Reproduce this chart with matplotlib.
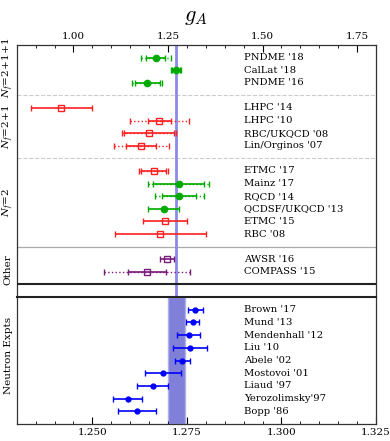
import numpy as np
import matplotlib
matplotlib.use("Agg")
import matplotlib.pyplot as plt
import matplotlib.transforms as mtransforms

plt.rcParams['font.family'] = 'DejaVu Serif'
plt.rcParams['mathtext.fontset'] = 'dejavuserif'

# lattice results (top panel), rows top to bottom
lat_labels = ["PNDME '18", "CalLat '18", "PNDME '16",
              "LHPC '14", "LHPC '10", "RBC/UKQCD '08", "Lin/Orginos '07",
              "ETMC '17", "Mainz '17", "RQCD '14", "QCDSF/UKQCD '13", "ETMC '15", "RBC '08",
              "AWSR '16", "COMPASS '15"]
lat_rows = [0, 1, 2, 4, 5, 6, 7, 9, 10, 11, 12, 13, 14, 16, 17]
lat_vals = [1.218, 1.271, 1.195, 0.968, 1.227, 1.200, 1.179,
            1.212, 1.278, 1.280, 1.239, 1.242, 1.230, 1.248, 1.195]
lat_stat = [0.025, 0.010, 0.033, 0.081, 0.030, 0.065, 0.040,
            0.033, 0.068, 0.045, 0.041, 0.058, 0.121, 0.019, 0.050]
lat_tot = [0.039, 0.013, 0.039, 0.081, 0.078, 0.072, 0.073,
           0.038, 0.081, 0.064, 0.041, 0.058, 0.121, 0.019, 0.113]
lat_kind = ['g', 'g', 'g', 'r', 'r', 'r', 'r',
            'r', 'g', 'g', 'g', 'r', 'r', 'p', 'p']

# neutron decay experiments (bottom panel)
exp_labels = ["Brown '17", "Mund '13", "Mendenhall '12", "Liu '10", "Abele '02",
              "Mostovoi '01", "Liaud '97", "Yerozolimsky'97", "Bopp '86"]
exp_vals = [1.2772, 1.2765, 1.2755, 1.2758, 1.2738, 1.2686, 1.2660, 1.2593, 1.2619]
exp_errs = [0.0020, 0.0017, 0.0030, 0.0044, 0.0019, 0.0048, 0.0041, 0.0039, 0.0050]

ga_avg = 1.2723
ga_err = 0.0023

styles = {'g': dict(color='#00aa00', marker='o', mfc='#00aa00', ms=4.5),
          'r': dict(color='#ff2020', marker='s', mfc='none', ms=4.5),
          'p': dict(color='#7a1a7a', marker='s', mfc='none', ms=4.5)}

fig = plt.figure(figsize=(3.9, 4.41), dpi=100)
ax1 = fig.add_axes([0.0428, 0.3265, 0.9213, 0.5715])
ax2 = fig.add_axes([0.0428, 0.0385, 0.9213, 0.288])

band_col = '#8080d8'

# top panel
ax1.axvline(ga_avg, color='#8a8ae8', lw=2, zorder=1)
for lab, r, v, s, t, k in zip(lat_labels, lat_rows, lat_vals, lat_stat, lat_tot, lat_kind):
    st = styles[k]
    if t > s + 1e-9:
        eb = ax1.errorbar(v, r, xerr=t, fmt='none', ecolor=st['color'], elinewidth=1,
                          capsize=2, capthick=1, zorder=2)
        eb[-1][0].set_linestyle(':')
    ax1.errorbar(v, r, xerr=s, fmt='none', ecolor=st['color'], elinewidth=1.2,
                 capsize=2, capthick=1, zorder=3)
    ax1.plot(v, r, marker=st['marker'], color=st['color'], mfc=st['mfc'],
             ms=st['ms'], mew=1, ls='none', zorder=4)
    ax1.text(1.452, r, lab, fontsize=7.2, va='center', ha='left')

for y in [3, 8]:
    ax1.axhline(y, color='#cccccc', lw=0.8, ls='--', zorder=0)
ax1.axhline(15, color='#aaaaaa', lw=0.9, zorder=0)
ax1.axhline(18, color='#222222', lw=1.5, zorder=5)

ax1.set_xlim(0.85, 1.80)
ax1.set_ylim(19, -1)
ax1.set_xticks([1.00, 1.25, 1.50, 1.75])
ax1.set_xticks(np.arange(0.90, 1.80, 0.05), minor=True)
ax1.set_xticklabels(['1.00', '1.25', '1.50', '1.75'])
ax1.xaxis.tick_top()
ax1.tick_params(axis='x', which='major', direction='in', length=5, labelsize=7.5, pad=3)
ax1.tick_params(axis='x', which='minor', direction='in', length=2.5)
ax1.set_yticks([])
ax1.set_title(r'$g_A$', fontsize=16, pad=17, math_fontfamily='cm')

# bottom panel
ax2.axvspan(ga_avg - ga_err, ga_avg + ga_err, facecolor=band_col, edgecolor='#b0b0ea',
            lw=1, zorder=1)
rows2 = np.arange(1, len(exp_vals) + 1)
ax2.errorbar(exp_vals, rows2, xerr=exp_errs, fmt='o', color='#0000ff', ms=3.5,
             elinewidth=1.2, capsize=2.5, capthick=1, zorder=3)
for lab, r in zip(exp_labels, rows2):
    ax2.text(1.2902, r, lab, fontsize=7.2, va='center', ha='left')

ax2.set_xlim(1.23, 1.325)
ax2.set_ylim(10, 0)
ax2.set_xticks([1.250, 1.275, 1.300, 1.325])
ax2.set_xticks(np.arange(1.235, 1.325, 0.005), minor=True)
ax2.set_xticklabels(['1.250', '1.275', '1.300', '1.325'])
ax2.tick_params(axis='x', which='major', direction='in', length=5, labelsize=7.5, pad=3)
ax2.tick_params(axis='x', which='minor', direction='in', length=2.5)
ax2.set_yticks([])

for ax in (ax1, ax2):
    for sp in ax.spines.values():
        sp.set_color('#333333')
        sp.set_linewidth(0.9)
ax2.spines['top'].set_linewidth(1.5)
ax2.spines['top'].set_color('#222222')
ax1.spines['bottom'].set_visible(False)

# group labels on the left
tr1 = mtransforms.blended_transform_factory(ax1.transAxes, ax1.transData)
for txt, y in [(r'$N_f\!=\!2\!+\!1\!+\!1$', 0.8), (r'$N_f\!=\!2\!+\!1$', 5.5),
               (r'$N_f\!=\!2$', 11.5), ('Other', 16.8)]:
    ax1.text(-0.024, y, txt, transform=tr1, rotation=90, ha='center', va='center',
             fontsize=7.5)
tr2 = mtransforms.blended_transform_factory(ax2.transAxes, ax2.transData)
ax2.text(-0.024, 4.6, 'Neutron Expts', transform=tr2, rotation=90, ha='center',
         va='center', fontsize=7.5)

fig.savefig('out.png', dpi=100)
